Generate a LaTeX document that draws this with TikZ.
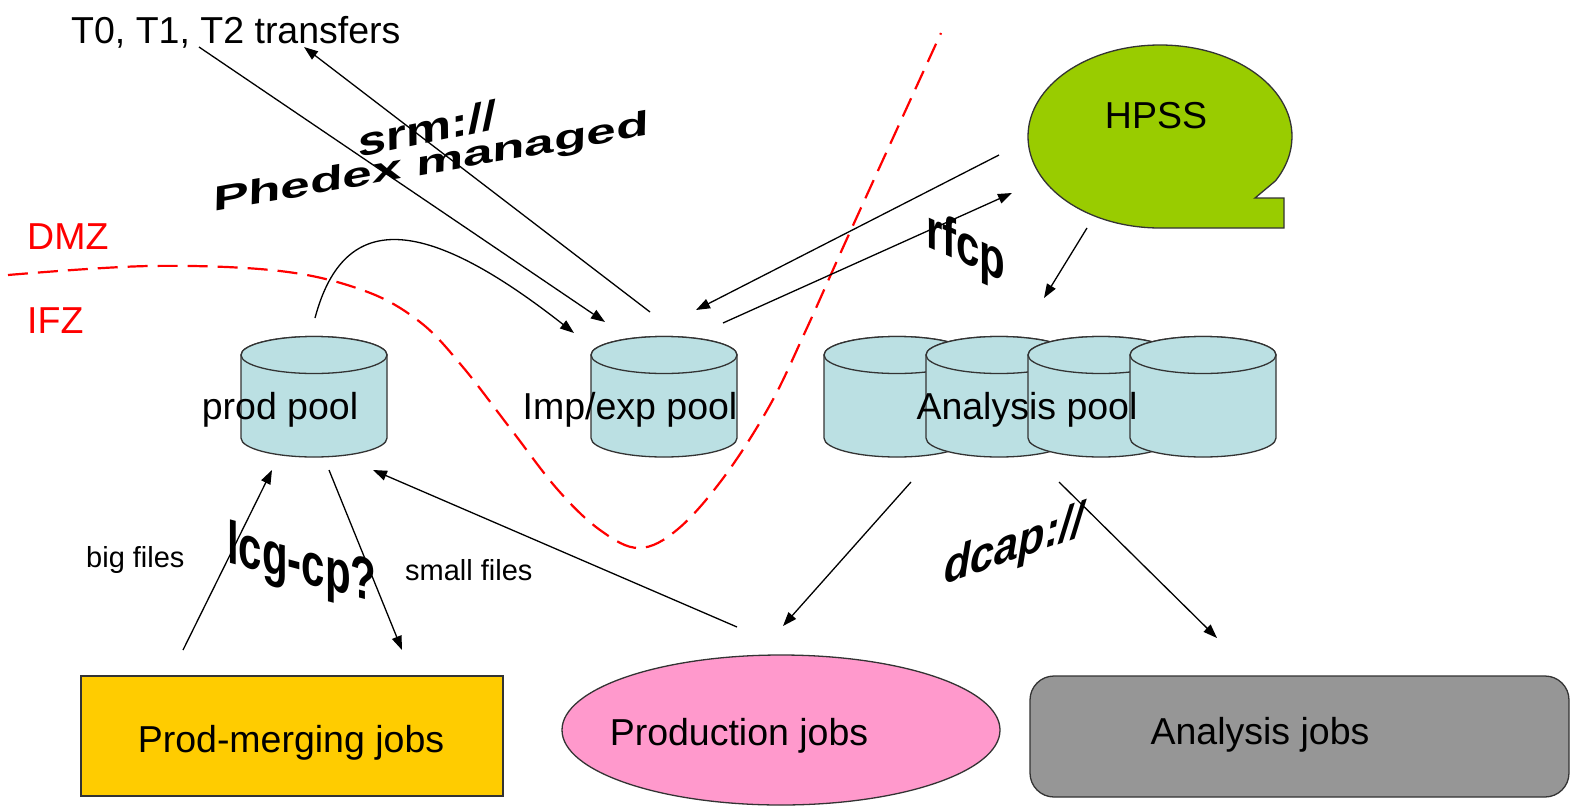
\documentclass[tikz,border=0pt]{standalone}
\usepackage{fontspec}
\setmainfont{Liberation Sans}
\usetikzlibrary{arrows.meta}

\definecolor{drumfill}{HTML}{BBE0E3}
\definecolor{hpssgreen}{HTML}{99CC00}
\definecolor{jobpink}{HTML}{FF99CC}
\definecolor{mergeyellow}{HTML}{FFCC00}
\definecolor{jobgray}{HTML}{969696}
\definecolor{zonered}{HTML}{FF0000}

% disk pool drawn as a cylinder: #1 = centre x
\newcommand\drum[1]{%
  \path[drum] (#1-73,355) -- (#1-73,438)
    arc[start angle=180,end angle=0,x radius=73,y radius=19]
    -- (#1+73,355)
    arc[start angle=0,end angle=-180,x radius=73,y radius=18.5] -- cycle;
  \path[drum] (#1,355) ellipse[x radius=73,y radius=18.5];
}

\begin{document}
\begin{tikzpicture}[x=1pt,y=-1pt,
  flow/.style={draw=black, line width=1.3pt, -{Triangle[length=14pt,width=10pt]}},
  zone/.style={draw=zonered, line width=2.2pt, dash pattern=on 20pt off 10pt},
  drum/.style={draw=black!80, line width=1.3pt, fill=drumfill},
  box/.style={draw=black!80, line width=1.3pt},
  lbl/.style={font=\fontsize{37.5}{44}\selectfont, inner sep=0pt, anchor=base},
  note/.style={font=\fontsize{29}{34}\selectfont, inner sep=0pt, anchor=base west},
  word/.style={inner sep=0pt, anchor=base west}]

\fill[white] (0,0) rectangle (1571,806);
\useasboundingbox (0,0) rectangle (1571,806);

% zone boundary between DMZ and IFZ
\draw[zone] plot[smooth, tension=0.6] coordinates {
  (8,275) (150,266) (280,271) (365,291) (420,322) (462,366) (510,428)
  (558,490) (600,530) (639,548) (678,529) (724,477) (770,405) (806,330)
  (850,232) (941,33)};

% storage pools
\drum{314}
\drum{664}
\drum{897}
\drum{999}
\drum{1101}
\drum{1203}

% HPSS tape store
\path[box, fill=hpssgreen] (1160,228)
  arc[start angle=90,end angle=389,x radius=132,y radius=91.5]
  -- (1255,198) -- (1284,198) -- (1284,228) -- cycle;

% job boxes
\path[box, fill=mergeyellow] (81,676) rectangle (503,796);
\path[box, fill=jobpink] (781,730) ellipse[x radius=219,y radius=75];
\path[box, fill=jobgray, rounded corners=24pt] (1030,676) rectangle (1569,797);

% labels
\node[lbl, anchor=base west] (transfers) at (71,43) {T0, T1, T2 transfers};
\node[lbl, anchor=base west, text=zonered] (dmz) at (27,249) {DMZ};
\node[lbl, anchor=base west, text=zonered] (ifz) at (27,333) {IFZ};
\node[lbl] (hpss) at (1156,128) {HPSS};
\node[lbl] (prodpool) at (280,419) {prod pool};
\node[lbl] (imppool) at (630,419) {Imp/exp pool};
\node[lbl] (anapool) at (1027,419) {Analysis pool};
\node[note] (bigfiles) at (86,567) {big files};
\node[note] (smallfiles) at (405,580) {small files};
\node[lbl] (mergejobs) at (291,752) {Prod-merging jobs};
\node[lbl] (prodjobs) at (739,745) {Production jobs};
\node[lbl] (anajobs) at (1260,744) {Analysis jobs};

% protocol labels
\node[word, font=\bfseries\fontsize{40}{42}\selectfont,
      rotate=12, xslant=0.2, xscale=1.3] (srm) at (358,158) {srm://};
\node[word, font=\bfseries\fontsize{34}{36}\selectfont,
      rotate=10, xslant=0.2, xscale=1.58] (phedex) at (213,212) {Phedex managed};
\node[word, font=\bfseries\fontsize{56}{58}\selectfont,
      yslant=-0.45, xscale=0.75] (rfcp) at (926,246) {rfcp};
\node[word, font=\bfseries\fontsize{60}{62}\selectfont,
      yslant=-0.27, xscale=0.7] (lcg) at (227,562) {lcg-cp?};
\node[word, font=\bfseries\itshape\fontsize{48}{50}\selectfont,
      yslant=0.36, xscale=0.9] (dcap) at (944,585) {dcap://};

% connector end points
\coordinate (transfers-out) at (199,47);
\coordinate (transfers-in)  at (304,47);
\coordinate (imp-in-wan)    at (605,322);
\coordinate (imp-out-wan)   at (650,312);
\coordinate (prod-up)       at (315,318);
\coordinate (imp-in-prod)   at (574,333);
\coordinate (hpss-out)      at (999,155);
\coordinate (imp-in-hpss)   at (696,310);
\coordinate (imp-out-hpss)  at (723,323);
\coordinate (hpss-in)       at (1012,193);
\coordinate (hpss-down)     at (1087,228);
\coordinate (ana-in-hpss)   at (1044,298);
\coordinate (ana-out-prod)  at (911,482);
\coordinate (prodjobs-in)   at (783,626);
\coordinate (ana-out-ana)   at (1059,482);
\coordinate (anajobs-in)    at (1217,638);
\coordinate (prodjobs-out)  at (737,627);
\coordinate (prod-in-jobs)  at (373,470);
\coordinate (merge-out)     at (183,650);
\coordinate (prod-in-merge) at (272,470);
\coordinate (prod-out-merge) at (329,470);
\coordinate (merge-in)      at (402,650);

% connectors
\draw[flow] (transfers-out) -- (imp-in-wan);
\draw[flow] (imp-out-wan) -- (transfers-in);
\draw[flow] (prod-up) .. controls (345,205) and (430,220) .. (imp-in-prod);
\draw[flow] (hpss-out) -- (imp-in-hpss);
\draw[flow] (imp-out-hpss) -- (hpss-in);
\draw[flow] (hpss-down) -- (ana-in-hpss);
\draw[flow] (ana-out-prod) -- (prodjobs-in);
\draw[flow] (ana-out-ana) -- (anajobs-in);
\draw[flow] (prodjobs-out) -- (prod-in-jobs);
\draw[flow] (merge-out) -- (prod-in-merge);
\draw[flow] (prod-out-merge) -- (merge-in);

\end{tikzpicture}
\end{document}
